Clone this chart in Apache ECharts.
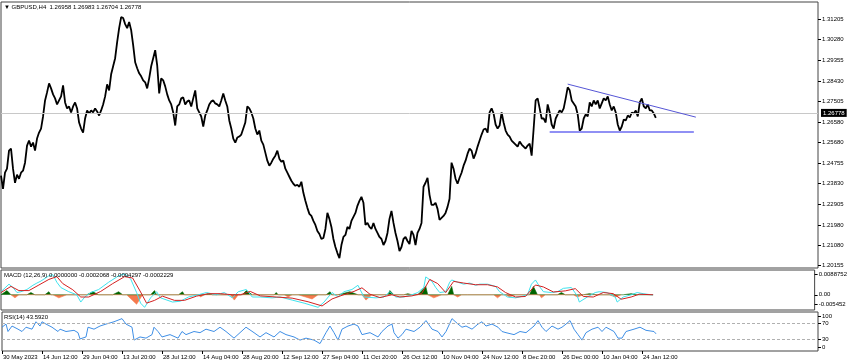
<!DOCTYPE html>
<html><head><meta charset="utf-8">
<script src="https://cdn.jsdelivr.net/npm/echarts@6/dist/echarts.min.js"></script>
<style>html,body{margin:0;padding:0;background:#fff}#c{width:850px;height:364px}</style>
</head><body><div id="c"></div>
<script>
// ---------- DATA ----------
const xTickLabels = ['30 May 2023','14 Jun 12:00','29 Jun 04:00','13 Jul 20:00','28 Jul 12:00','14 Aug 04:00','28 Aug 20:00','12 Sep 12:00','27 Sep 04:00','11 Oct 20:00','26 Oct 12:00','10 Nov 04:00','24 Nov 12:00','8 Dec 20:00','26 Dec 00:00','10 Jan 04:00','24 Jan 12:00'];
const barCount = 409;      // slots on the time axis (incl. empty right margin)
const labelEvery = 20;     // slots between time labels

const priceClose = [
1.24185,1.2360,1.2432,1.2450,1.2531,1.2540,1.2450,1.2387,1.2423,1.2405,
1.2432,1.2441,1.2477,1.25535,1.2576,1.2549,1.2567,1.2531,1.2585,1.2612,
1.2630,1.2684,1.2756,1.2792,1.28325,1.2810,1.2783,1.2765,1.2738,1.2756,
1.2774,1.28235,1.2747,1.2720,1.2729,1.2702,1.2729,1.2747,1.2720,1.2657,
1.2630,1.2612,1.2675,1.2711,1.26975,1.2711,1.2702,1.2720,1.27065,1.26885,
1.2711,1.2738,1.2774,1.2828,1.2801,1.2873,1.2909,1.2945,1.3017,1.3080,
1.31295,1.3125,1.3098,1.3080,1.3107,1.3071,1.30035,1.2927,1.2900,1.28775,
1.2864,1.2846,1.2837,1.2810,1.2855,1.2909,1.2945,1.2981,1.29135,1.27875,
1.2855,1.2846,1.2819,1.2783,1.2756,1.2738,1.2702,1.26435,1.2729,1.2738,
1.2765,1.27695,1.2738,1.27515,1.2756,1.2729,1.2765,1.2801,1.2720,1.2702,
1.2684,1.2639,1.26885,1.2711,1.2738,1.27515,1.2756,1.27425,1.2738,1.2729,
1.2756,1.27875,1.2756,1.2729,1.2666,1.2630,1.2585,1.2567,1.25895,1.2594,
1.2603,1.2630,1.2657,1.2729,1.2720,1.2702,1.2675,1.2630,1.2603,1.2621,
1.2576,1.2558,1.2522,1.2486,1.24635,1.2477,1.2495,1.25085,1.2531,1.2495,
1.24815,1.2486,1.2450,1.2432,1.2414,1.2396,1.23825,1.23735,1.2378,1.2369,
1.23915,1.2342,1.2306,1.22745,1.22475,1.22385,1.2216,1.2198,1.2171,1.21575,
1.2135,1.21395,1.2180,1.2252,1.2225,1.2189,1.2135,1.2099,1.2072,1.20495,
1.2108,1.2144,1.2153,1.2189,1.2180,1.2216,1.2234,1.2252,1.22835,1.2306,
1.2324,1.2297,1.2198,1.2207,1.2189,1.2180,1.2207,1.2180,1.2162,1.2144,
1.2135,1.2108,1.2126,1.2162,1.2225,1.2261,1.2207,1.2162,1.2126,1.2081,
1.2099,1.2135,1.2144,1.2126,1.21125,1.2171,1.2153,1.2108,1.2162,1.2180,
1.2207,1.2369,1.2387,1.24095,1.2333,1.2288,1.2288,1.2297,1.2270,1.22205,
1.22295,1.22385,1.2252,1.2279,1.2315,1.2477,1.2450,1.2405,1.23825,1.24095,
1.2432,1.24635,1.2486,1.25175,1.2540,1.2531,1.2495,1.25175,1.2549,1.2576,
1.2603,1.26255,1.2630,1.2612,1.2702,1.2720,1.26975,1.2648,1.2630,1.26435,
1.2702,1.2657,1.2621,1.2603,1.2594,1.2576,1.2567,1.2558,1.2549,1.25715,
1.2558,1.2549,1.2540,1.25535,1.25625,1.25085,1.2630,1.2756,1.2765,1.2720,
1.2675,1.2675,1.2657,1.2738,1.2702,1.2648,1.2630,1.2675,1.2693,1.2711,
1.2702,1.2720,1.2765,1.28145,1.2801,1.2756,1.27425,1.2729,1.2693,1.2621,
1.2630,1.2675,1.2693,1.2684,1.2747,1.2729,1.2756,1.2738,1.2756,1.2720,
1.27425,1.2765,1.2756,1.2774,1.2738,1.2711,1.2729,1.2702,1.2648,1.2621,
1.2639,1.26705,1.2666,1.26885,1.26795,1.2702,1.26975,1.2711,1.2684,1.2747,
1.2765,1.2729,1.2720,1.2738,1.2711,1.2711,1.26975,1.26778
];
const lastClose = 1.26778;
const priceTicks = [1.31205,1.30280,1.29355,1.28430,1.27505,1.26580,1.25680,1.24755,1.23830,1.22905,1.21980,1.21080,1.20155];
const priceMin = 1.2005, priceMax = 1.3197;

// trend lines [slot, price]
const resistanceLine = [[283, 1.2829], [347, 1.2681]];
const supportLine = [[274, 1.2614], [346, 1.2614]];

// MACD
const macdMin = -0.005452, macdMax = 0.0088752;
// label anchors (MT4 draws the extreme labels just inside the window) -> shown text
const macdTickPos = [0.00744, 0, -0.0033];
const macdTickText = ['0.0088752', '0.00', '-0.005452'];
const macdMain = [[0,0.0011],[4,0.0038],[6,0.0026],[8,0.0008],[10,0.0011],[13,0.0019],[16,0.0034],[18,0.0042],[20,0.0049],[24,0.0068],[26,0.0072],[28,0.0045],[30,0.0026],[34,0.0011],[38,0.0],[40,-0.0026],[42,-0.0008],[45,0.0008],[49,0.0019],[54,0.0045],[59,0.0068],[62,0.0075],[65,0.0057],[68,0.0008],[70,-0.0030],[72,-0.0045],[75,-0.0011],[78,0.0011],[80,-0.0011],[86,-0.0026],[90,-0.0023],[94,-0.0008],[99,0.0],[103,0.0008],[108,0.0],[112,0.0008],[116,-0.0011],[119,0.0011],[123,0.0019],[126,-0.0008],[130,-0.0008],[136,-0.0011],[140,-0.0008],[146,-0.0019],[152,-0.0030],[159,-0.0045],[162,-0.0026],[166,0.0008],[169,-0.0008],[172,0.0011],[176,0.0019],[179,0.0034],[182,-0.0008],[188,-0.0011],[192,-0.0008],[195,0.0011],[198,-0.0008],[199,-0.0011],[202,-0.0008],[206,0.0],[209,0.0008],[212,0.0026],[213,0.0064],[214,0.0068],[216,0.0049],[218,0.0026],[220,0.0008],[223,0.0011],[225,0.0045],[226,0.0053],[229,0.0045],[232,0.0038],[235,0.0042],[238,0.0034],[240,0.0038],[244,0.0038],[248,0.0030],[250,0.0011],[254,-0.0008],[258,-0.0011],[260,-0.0008],[264,0.0],[266,0.0038],[268,0.0053],[270,0.0030],[272,0.0011],[276,0.0008],[279,0.0011],[282,0.0023],[286,0.0026],[289,-0.0004],[290,-0.0026],[294,-0.0008],[298,0.0008],[300,0.0011],[304,0.0008],[308,-0.0008],[309,-0.0026],[312,-0.0008],[316,0.0],[319,0.0008],[322,0.0004],[326,0.0],[327,0.0]];
const macdSignal = [[0,0.0008],[5,0.0030],[9,0.0015],[14,0.0015],[19,0.0035],[24,0.0055],[28,0.0065],[31,0.0040],[36,0.0018],[40,-0.0008],[44,-0.0008],[50,0.0012],[56,0.0040],[62,0.0065],[66,0.0060],[70,0.0010],[73,-0.0030],[77,-0.0020],[81,-0.0005],[87,-0.0020],[92,-0.0020],[98,-0.0005],[104,0.0004],[110,0.0004],[116,0.0],[120,0.0],[125,0.0012],[130,-0.0004],[138,-0.0008],[146,-0.0012],[154,-0.0025],[161,-0.0040],[166,-0.0015],[171,-0.0002],[177,0.0012],[181,0.0025],[185,0.0002],[190,-0.0010],[196,0.0],[200,-0.0008],[206,-0.0004],[211,0.0005],[215,0.0055],[219,0.0040],[223,0.0008],[227,0.0048],[232,0.0042],[238,0.0036],[244,0.0036],[249,0.0028],[253,0.0008],[258,-0.0008],[263,-0.0006],[268,0.0035],[272,0.0028],[277,0.0010],[283,0.0014],[288,0.0022],[292,-0.0006],[297,-0.0008],[302,0.0008],[307,0.0004],[311,-0.0016],[316,-0.0008],[320,0.0002],[327,0.0]];
const histGreen = [[0,0],[1,0],[3,0.0015],[5,0],[13,0],[15,0.0008],[17,0],[22,0],[24,0.0011],[25,0],[43,0],[46,0.0011],[49,0],[56,0],[59,0.0011],[61,0],[75,0],[77,0.0015],[78,0],[89,0],[91,0.0011],[92,0],[102,0],[104,0.0004],[106,0],[121,0],[123,0.0015],[126,0],[137,0],[138,0.0008],[139,0],[163,0],[165,0.0011],[166,0],[169,0],[175,0.0011],[179,0],[194,0],[195,0.0015],[197,0],[202,0],[204,0.0004],[206,0],[209,0],[213,0.0030],[214,0],[224,0],[226,0.0030],[227,0],[231,0],[232,0.0003],[234,0],[265,0],[267,0.0030],[269,0],[279,0],[281,0.0008],[283,0],[292,0],[295,0.0004],[299,0],[312,0],[316,0.0004],[319,0],[327,0]];
const histRed = [[5,0],[7,-0.0011],[9,0],[26,0],[29,-0.0011],[33,0],[63,0],[68,-0.0034],[71,0],[99,0],[100,-0.0008],[102,0],[115,0],[117,-0.0019],[119,0],[142,0],[144,-0.0008],[146,0],[149,0],[156,-0.0015],[159,0],[181,0],[183,-0.0019],[186,0],[214,0],[217,-0.0011],[221,0],[227,0],[229,-0.0008],[231,0],[247,0],[249,-0.0011],[251,0],[253,0],[255,-0.0008],[258,0],[270,0],[271,-0.0011],[273,0],[287,0],[289,-0.0008],[292,0],[305,0],[308,-0.0008],[311,0]];

// RSI
const rsiTickPos = [88, 70, 30, 10];
const rsiTickText = ['100', '70', '30', '0'];
const rsiLevels = [70, 30];
const rsi = [[0,61],[2,69],[3,50],[5,64],[8,56],[10,50],[12,61],[15,56],[17,75],[19,64],[20,75],[22,69],[25,61],[28,50],[29,56],[32,50],[36,53],[38,47],[39,31],[42,36],[43,61],[46,56],[49,64],[52,69],[56,75],[60,83],[62,69],[65,61],[66,28],[69,36],[72,33],[75,42],[76,61],[78,50],[80,36],[84,42],[88,33],[90,50],[92,42],[96,50],[99,47],[102,56],[106,50],[109,61],[112,50],[116,33],[119,47],[122,61],[126,47],[129,36],[132,47],[136,36],[139,50],[142,42],[146,36],[149,28],[152,33],[156,28],[159,19],[160,22],[162,47],[164,64],[166,47],[168,28],[170,56],[173,64],[176,69],[178,64],[180,42],[184,47],[188,36],[190,50],[193,64],[195,69],[196,47],[198,33],[200,42],[202,56],[206,50],[209,61],[212,78],[213,75],[215,56],[218,50],[220,36],[222,50],[225,83],[228,69],[230,61],[232,64],[235,56],[238,69],[240,75],[242,64],[245,69],[248,61],[250,50],[252,47],[256,42],[259,50],[262,47],[266,64],[268,78],[270,61],[272,50],[275,64],[278,56],[280,61],[282,69],[284,78],[286,56],[288,42],[290,28],[292,47],[295,56],[298,61],[300,50],[302,61],[306,50],[308,33],[310,33],[312,50],[316,56],[319,61],[322,53],[326,50],[327,44]];

const mainLabel = '\u25BC GBPUSD,H4  1.26958 1.26983 1.26704 1.26778';
const macdLabel = 'MACD (12,26,9) 0.0000000 -0.0002068 -0.0004297 -0.0002229';
const rsiLabel = 'RSI(14) 43.5920';

// ---------- CHART ----------
const FONT = 'Liberation Sans';
const categories = Array.from({length: barCount}, (_, i) => String(i));
const isLabelSlot = (i) => i % labelEvery === 0 && i / labelEvery < xTickLabels.length;
const chart = echarts.init(document.getElementById('c'), null, {renderer: 'canvas'});
const gridBase = {left: 1, right: 32, show: true, borderColor: '#444', borderWidth: 1, backgroundColor: '#fff'};
const xBase = (g) => ({gridIndex: g, type: 'category', data: categories, boundaryGap: false,
  axisLine: {show: false}, axisTick: {show: false}, axisLabel: {show: false}, splitLine: {show: false}});
const yLabel = {fontSize: 6, color: '#000', fontFamily: FONT, margin: 4};
const textFor = (pos, text) => (v) => { let k = 0; pos.forEach((p, i) => { if (Math.abs(p - v) < Math.abs(pos[k] - v)) k = i; }); return text[k]; };

chart.setOption({
  animation: false,
  title: [
    {text: mainLabel, left: 4, top: 4, padding: 0, textStyle: {fontSize: 6, fontWeight: 'normal', color: '#000', fontFamily: FONT}},
    {text: macdLabel, left: 4, top: 272, padding: 0, textStyle: {fontSize: 6, fontWeight: 'normal', color: '#000', fontFamily: FONT}},
    {text: rsiLabel, left: 4, top: 314, padding: 0, textStyle: {fontSize: 6, fontWeight: 'normal', color: '#000', fontFamily: FONT}}
  ],
  grid: [
    Object.assign({top: 2, height: 266}, gridBase),
    Object.assign({top: 270, height: 40}, gridBase),
    Object.assign({top: 312, height: 39}, gridBase)
  ],
  xAxis: [
    xBase(0), xBase(1),
    Object.assign(xBase(2), {
      axisTick: {show: true, interval: (i) => isLabelSlot(i), length: 3, lineStyle: {color: '#000'}},
      axisLabel: {show: true, interval: (i) => isLabelSlot(i), formatter: (v, i) => xTickLabels[i / labelEvery] || '',
        align: 'left', fontSize: 6, color: '#000', fontFamily: FONT, margin: 3, padding: [0, 0, 0, 1]}
    })
  ],
  yAxis: [
    {gridIndex: 0, type: 'value', position: 'right', min: priceMin, max: priceMax, splitLine: {show: false},
      axisLine: {show: false}, axisTick: {show: true, length: 3, customValues: priceTicks, lineStyle: {color: '#000'}},
      axisLabel: Object.assign({customValues: priceTicks, formatter: (v) => v.toFixed(5)}, yLabel)},
    {gridIndex: 1, type: 'value', position: 'right', min: macdMin, max: macdMax, splitLine: {show: false},
      axisLine: {show: false}, axisTick: {show: true, length: 3, customValues: macdTickPos, lineStyle: {color: '#000'}},
      axisLabel: Object.assign({customValues: macdTickPos, formatter: textFor(macdTickPos, macdTickText)}, yLabel)},
    {gridIndex: 2, type: 'value', position: 'right', min: 0, max: 100, splitLine: {show: false},
      axisLine: {show: false}, axisTick: {show: true, length: 3, customValues: rsiTickPos, lineStyle: {color: '#000'}},
      axisLabel: Object.assign({customValues: rsiTickPos, formatter: textFor(rsiTickPos, rsiTickText)}, yLabel)}
  ],
  series: [
    {type: 'line', xAxisIndex: 0, yAxisIndex: 0, data: priceClose, symbol: 'none', z: 3,
      lineStyle: {color: '#000', width: 1.8},
      markLine: {silent: true, symbol: 'none', animation: false,
        data: [
          {yAxis: lastClose, lineStyle: {color: '#c8c8c8', width: 1, type: 'solid'},
            label: {show: true, position: 'end', distance: 3, formatter: lastClose.toFixed(5), backgroundColor: '#000', color: '#fff',
              fontSize: 6, fontFamily: FONT, padding: [1, 2, 1, 2]}},
          [{coord: resistanceLine[0]}, {coord: resistanceLine[1], lineStyle: {color: '#5656d6', width: 1, type: 'solid'}, label: {show: false}}],
          [{coord: supportLine[0]}, {coord: supportLine[1], lineStyle: {color: '#6b6bf0', width: 1.6, type: 'solid'}, label: {show: false}}]
        ]}},
    {type: 'line', xAxisIndex: 1, yAxisIndex: 1, data: histGreen, symbol: 'none',
      lineStyle: {color: '#006400', width: 0.6}, areaStyle: {color: '#006400', opacity: 1}},
    {type: 'line', xAxisIndex: 1, yAxisIndex: 1, data: histRed, symbol: 'none',
      lineStyle: {color: '#f57a4e', width: 0.6}, areaStyle: {color: '#f57a4e', opacity: 1}},
    {type: 'line', xAxisIndex: 1, yAxisIndex: 1, data: macdMain, symbol: 'none',
      lineStyle: {color: '#3fe3ee', width: 1}},
    {type: 'line', xAxisIndex: 1, yAxisIndex: 1, data: macdSignal, symbol: 'none',
      lineStyle: {color: '#d42020', width: 1}},
    {type: 'line', xAxisIndex: 2, yAxisIndex: 2, data: rsi, symbol: 'none',
      lineStyle: {color: '#3f8fe6', width: 1},
      markLine: {silent: true, symbol: 'none', label: {show: false},
        lineStyle: {color: '#b0b0b0', width: 1, type: [3, 2]},
        data: rsiLevels.map(v => ({yAxis: v}))}}
  ]
});
</script></body></html>
